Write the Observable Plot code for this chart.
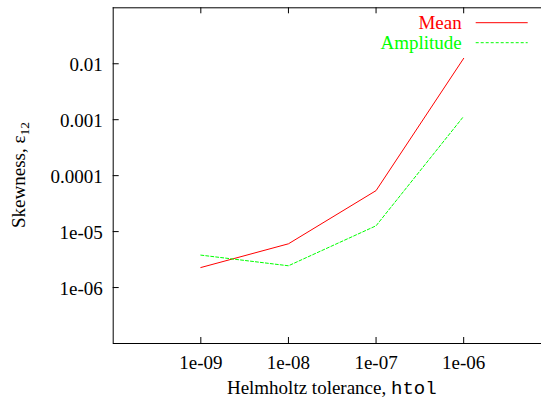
<!DOCTYPE html>
<html>
<head>
<meta charset="utf-8">
<script src="https://cdn.jsdelivr.net/npm/d3@7"></script>
<script src="https://cdn.jsdelivr.net/npm/@observablehq/plot@0.6"></script>
<style>
  body { margin: 0; background: #fff; }
  #chart svg, #chart svg text { font-family: "Liberation Serif", "DejaVu Serif", Tinos, "Times New Roman", Times, serif; }
  #chart svg text tspan.code { font-family: "Liberation Mono", "DejaVu Sans Mono", Cousine, monospace; }
</style>
</head>
<body>
<div id="chart"></div>
<script>
// Skewness of the solution versus Helmholtz solver tolerance
const tolerances = [1e-9, 1e-8, 1e-7, 1e-6];
const meanSkew = [2.28e-6, 6.05e-6, 5.4e-5, 0.0125];
const amplitudeSkew = [3.8e-6, 2.45e-6, 1.27e-5, 1.15e-3];

const seriesNames = ["Mean", "Amplitude"];
const seriesColors = ["#ff0000", "#00ff00"];
const seriesDash = [null, "3,2"];

const xTicks = [1e-9, 1e-8, 1e-7, 1e-6];
const xTickLabels = ["1e-09", "1e-08", "1e-07", "1e-06"];
const yTicks = [0.01, 0.001, 0.0001, 1e-5, 1e-6];
const yTickLabels = ["0.01", "0.001", "0.0001", "1e-05", "1e-06"];
const xDomain = [1e-10, 1e-5];
const yDomain = [1e-7, 0.1];

const xLabel = "Helmholtz tolerance, ";
const xLabelCode = "htol";
const yLabel = "Skewness, \u03b5";
const yLabelSub = "12";

// long-format table built from the series arrays
const rows = tolerances.flatMap((t, i) => [
  {htol: t, skew: meanSkew[i], series: seriesNames[0]},
  {htol: t, skew: amplitudeSkew[i], series: seriesNames[1]}
]);

const W = 541, H = 397;
const mL = 112.7, mT = 7.3, mB = 54;
const frameH = H - mT - mB;
const frameW = W - mL;
const serif = "'Liberation Serif', 'DejaVu Serif', Tinos, 'Times New Roman', Times, serif";
const fs = 19;

const plot = Plot.plot({
  width: W,
  height: H,
  marginLeft: mL,
  marginTop: mT,
  marginBottom: mB,
  marginRight: 0,
  style: {fontFamily: serif, fontSize: fs + "px", background: "#fff", color: "#000"},
  x: {type: "log", domain: xDomain, range: [mL, 550.8]},
  y: {type: "log", domain: yDomain, range: [H - mB, mT]},
  marks: [
    Plot.axisX(xTicks, {
      tickSize: 0, tickPadding: 11.8, label: null, fontSize: fs,
      tickFormat: d => xTickLabels[xTicks.indexOf(d)]
    }),
    Plot.axisY(yTicks, {
      tickSize: 0, tickPadding: 10.4, dy: 1.3, label: null, fontSize: fs,
      tickFormat: d => yTickLabels[yTicks.indexOf(d)]
    }),
    // inward ticks on bottom, top and left borders
    Plot.tickX(xTicks, {x: d => d, insetTop: frameH - 6, stroke: "#000"}),
    Plot.tickX(xTicks, {x: d => d, insetBottom: frameH - 6, stroke: "#000"}),
    Plot.tickY(yTicks, {y: d => d, insetRight: frameW - 6, stroke: "#000"}),
    // data series
    ...seriesNames.map((name, k) => Plot.line(rows.filter(r => r.series === name), {
      x: "htol", y: "skew",
      stroke: seriesColors[k],
      strokeWidth: 1,
      strokeDasharray: seriesDash[k]
    })),
    // border
    Plot.ruleX([xDomain[0]], {stroke: "#000", strokeWidth: 1}),
    Plot.ruleY(yDomain, {stroke: "#000", strokeWidth: 1})
  ]
});

const svg = d3.select(plot);

// key in the upper right corner
const key = svg.append("g").attr("font-size", fs);
const keyRows = [{base: 29.3, line: 22.7}, {base: 48.7, line: 42.7}];
seriesNames.forEach((name, k) => {
  key.append("text")
    .attr("x", 461.7).attr("y", keyRows[k].base)
    .attr("text-anchor", "end")
    .attr("fill", seriesColors[k])
    .text(name);
  key.append("line")
    .attr("x1", 475.7).attr("x2", 527.7)
    .attr("y1", keyRows[k].line).attr("y2", keyRows[k].line)
    .attr("stroke", seriesColors[k])
    .attr("stroke-width", 1)
    .attr("stroke-dasharray", seriesDash[k]);
});

// axis titles
const xs = plot.scale("x");
const xMid = xs.apply(Math.sqrt(xDomain[0] * xDomain[1]));
const xt = svg.append("text")
  .attr("x", xMid).attr("y", 393.8)
  .attr("text-anchor", "middle")
  .attr("font-size", fs)
  .attr("fill", "#000");
xt.append("tspan").text(xLabel);
xt.append("tspan").attr("class", "code").text(xLabelCode);

const yt = svg.append("text")
  .attr("transform", "translate(25,175) rotate(-90)")
  .attr("text-anchor", "middle")
  .attr("font-size", fs)
  .attr("fill", "#000");
yt.append("tspan").text(yLabel);
yt.append("tspan").attr("font-size", 13.5).attr("dy", 4).text(yLabelSub);

document.getElementById("chart").appendChild(plot);
</script>
</body>
</html>
